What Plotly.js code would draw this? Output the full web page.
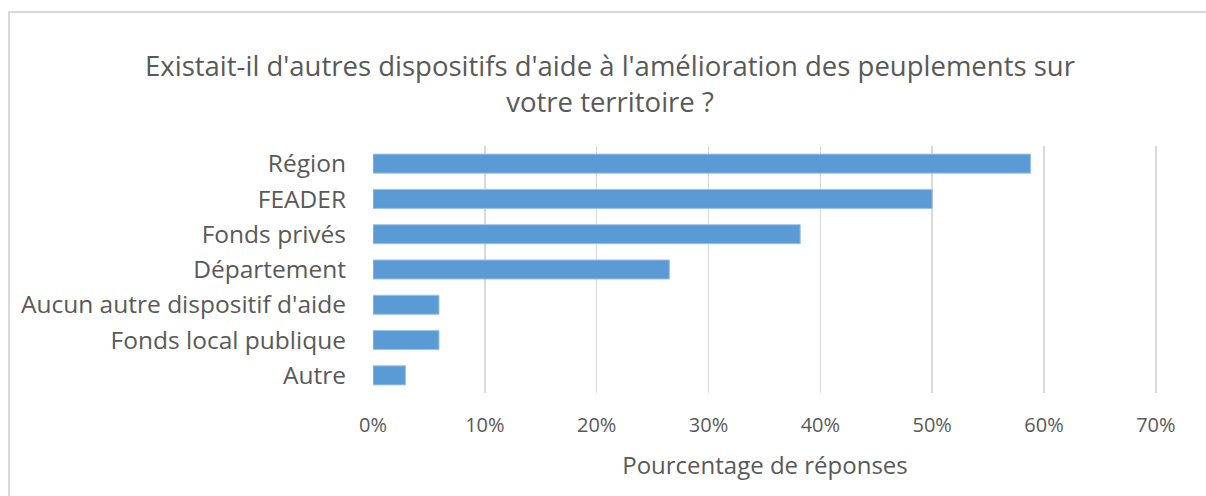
<!DOCTYPE html>
<html>
<head>
<meta charset="utf-8">
<script src="https://cdn.plot.ly/plotly-3.0.1.min.js"></script>
<style>html,body{margin:0;padding:0;background:#fff;}#chart{width:1206px;height:496px;}</style>
</head>
<body>
<div id="chart"></div>
<script>
const categories = ["Région", "FEADER", "Fonds privés", "Département", "Aucun autre dispositif d'aide", "Fonds local publique", "Autre"];
const values = [58.8, 50.0, 38.2, 26.5, 5.9, 5.9, 2.9];
const tickValues = [0, 10, 20, 30, 40, 50, 60, 70];
const tickLabels = ["0%", "10%", "20%", "30%", "40%", "50%", "60%", "70%"];

const textColor = "#595959";
const fontFamily = "Open Sans, sans-serif";

const trace = {
  type: "bar",
  orientation: "h",
  x: values,
  y: categories,
  marker: { color: "#5B9BD5", line: { color: "#9DC3E6", width: 1 } },
  hoverinfo: "x+y"
};

const L = 373, R = 1206 - 1157, T = 146, B = 496 - 393;
const pw = 1206 - L - R, ph = 496 - T - B;

const layout = {
  width: 1206,
  height: 496,
  margin: { l: L, r: R, t: T, b: B },
  paper_bgcolor: "#ffffff",
  plot_bgcolor: "#ffffff",
  showlegend: false,
  bargap: 0.46,
  title: {
    text: "Existait-il d'autres dispositifs d'aide à l'amélioration des peuplements sur<br>votre territoire ?",
    font: { family: fontFamily, size: 27.5, color: textColor },
    x: 610 / 1206, xref: "container", xanchor: "center",
    y: 1 - 76 / 496, yref: "container", yanchor: "middle"
  },
  xaxis: {
    range: [0, 70.1],
    tickvals: tickValues,
    ticktext: tickLabels,
    showgrid: true,
    gridcolor: "#D9D9D9",
    gridwidth: 1.5,
    zeroline: false,
    showline: false,
    ticks: "",
    ticklabelstandoff: 18,
    tickfont: { family: fontFamily, size: 20, color: textColor },
    title: {
      text: "Pourcentage de réponses",
      font: { family: fontFamily, size: 24, color: textColor },
      standoff: 20
    },
    automargin: false,
    fixedrange: true
  },
  yaxis: {
    categoryorder: "array",
    categoryarray: categories,
    autorange: "reversed",
    showgrid: false,
    zeroline: false,
    showline: false,
    ticks: "",
    ticklabelstandoff: 26,
    tickfont: { family: fontFamily, size: 24.5, color: textColor },
    automargin: false,
    fixedrange: true
  },
  shapes: [
    {
      type: "rect", xref: "paper", yref: "paper",
      x0: (9 - L) / pw, x1: (1230 - L) / pw,
      y0: (393 - 520) / ph, y1: (393 - 12) / ph,
      line: { color: "#D9D9D9", width: 2 },
      fillcolor: "rgba(0,0,0,0)",
      layer: "below"
    }
  ]
};

Plotly.newPlot("chart", [trace], layout, { displayModeBar: false, staticPlot: true });
</script>
</body>
</html>
